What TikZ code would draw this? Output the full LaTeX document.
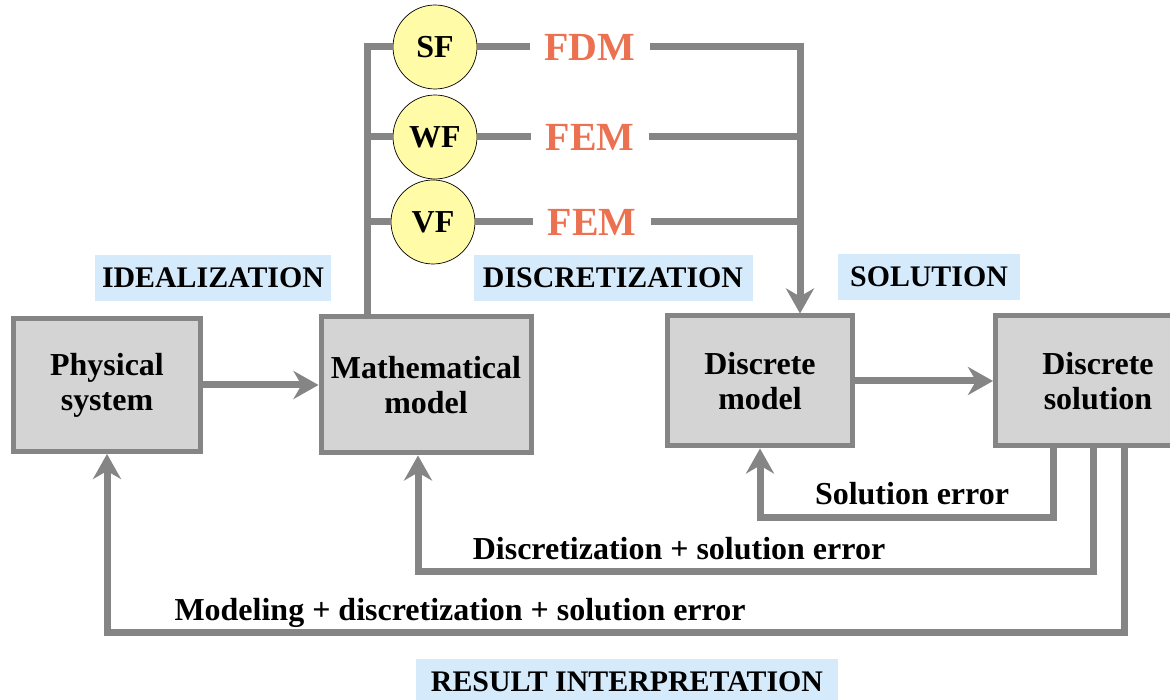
\documentclass[tikz,border=0pt]{standalone}
\usepackage{fontspec}
\setmainfont{Liberation Serif}
\usetikzlibrary{arrows.meta,positioning,calc}
\definecolor{linegray}{HTML}{858585}
\definecolor{boxgray}{HTML}{D4D4D4}
\definecolor{tagblue}{HTML}{D5EBFC}
\definecolor{formyellow}{HTML}{FFFBA6}
\definecolor{methodred}{HTML}{EB7150}
\tikzset{
  block/.style={draw=linegray, line width=1mm, fill=boxgray, align=center, inner sep=0pt, font=\fontsize{18.2}{20}\selectfont\bfseries},
  tag/.style={fill=tagblue, inner sep=0pt, minimum height=9.2mm, font=\fontsize{17}{19}\selectfont\bfseries},
  form/.style={circle, draw=black, thin, fill=formyellow, minimum size=16.8mm, inner sep=0pt, font=\fontsize{18.2}{20}\selectfont\bfseries},
  method/.style={text=methodred, inner sep=2.8mm, font=\fontsize{22.7}{24}\selectfont\bfseries},
  errtext/.style={anchor=base, inner sep=0pt, font=\fontsize{18.2}{20}\selectfont\bfseries},
  link/.style={draw=linegray, line width=1.4mm},
  arrow/.style={link, -{Stealth[length=5mm, width=5.6mm, inset=1.6mm]}}
}

\begin{document}
\begin{tikzpicture}[x=0.2mm, y=-0.2mm]
  \clip (0,0) rectangle (1170,700);
  \fill[white] (0,0) rectangle (1170,700);

  % main chain of models
  \node[block, minimum width=37.2mm, minimum height=26.6mm] (phys) at (107,385) {Physical\\system};
  \node[block, minimum width=42mm, minimum height=27.2mm] (math) at (426,385) {Mathematical\\model};
  \node[block, minimum width=37mm, minimum height=26mm] (dmodel) at (760,381) {Discrete\\model};
  \node[block, minimum width=41mm, minimum height=26mm] (dsol) at (1098,381) {Discrete\\solution};

  % formulations and methods
  \node[form] (sf) at (435,47) {SF};
  \node[form] (wf) at (435,137) {WF};
  \node[form] (vf) at (433,222) {VF};
  \node[method] (fdm) at (590,47) {FDM};
  \node[method] (fem1) at (590,137) {FEM};
  \node[method] (fem2) at (592,222) {FEM};

  % stage tags
  \node[tag, minimum width=47mm] (ideal) at (213,278) {IDEALIZATION};
  \node[tag, minimum width=55.8mm] (discr) at (613,278) {DISCRETIZATION};
  \node[tag, minimum width=36.4mm] (solv) at (929,277) {SOLUTION};
  \node[tag, minimum width=84.4mm] (interp) at (627,682) {RESULT INTERPRETATION};

  % trunk from the mathematical model to the formulations
  \coordinate (trunk) at (367,47);
  \draw[link] (math.north -| trunk) -- (trunk) -- (sf);
  \draw[link] (trunk |- wf) -- (wf);
  \draw[link] (trunk |- vf) -- (vf);

  % formulations -> methods -> discrete model
  \coordinate (bus) at (800,47);
  \draw[link] (sf) -- (fdm);
  \draw[link] (wf) -- (fem1);
  \draw[link] (vf) -- (fem2);
  \draw[arrow] (fdm) -- (bus) -- (bus |- dmodel.north);
  \draw[link] (fem1) -- (fem1 -| bus);
  \draw[link] (fem2) -- (fem2 -| bus);

  \draw[arrow] (phys) -- (math);
  \draw[arrow] (dmodel) -- (dsol);

  % error feedback loops
  \coordinate (c1) at (1053,518);
  \draw[arrow] (dsol.south -| c1) -- (c1) -- (c1 -| dmodel.south) -- (dmodel.south);
  \coordinate (c2) at (1093,572);
  \coordinate (c2m) at (418,572);
  \draw[arrow] (dsol.south -| c2) -- (c2) -- (c2m) -- (c2m |- math.south);
  \coordinate (c3) at (1124,633);
  \draw[arrow] (dsol.south -| c3) -- (c3) -- (c3 -| phys.south) -- (phys.south);

  \node[errtext] (err1) at (912,505) {Solution error};
  \node[errtext] (err2) at (679,560) {Discretization + solution error};
  \node[errtext] (err3) at (460,621) {Modeling + discretization + solution error};
\end{tikzpicture}
\end{document}
